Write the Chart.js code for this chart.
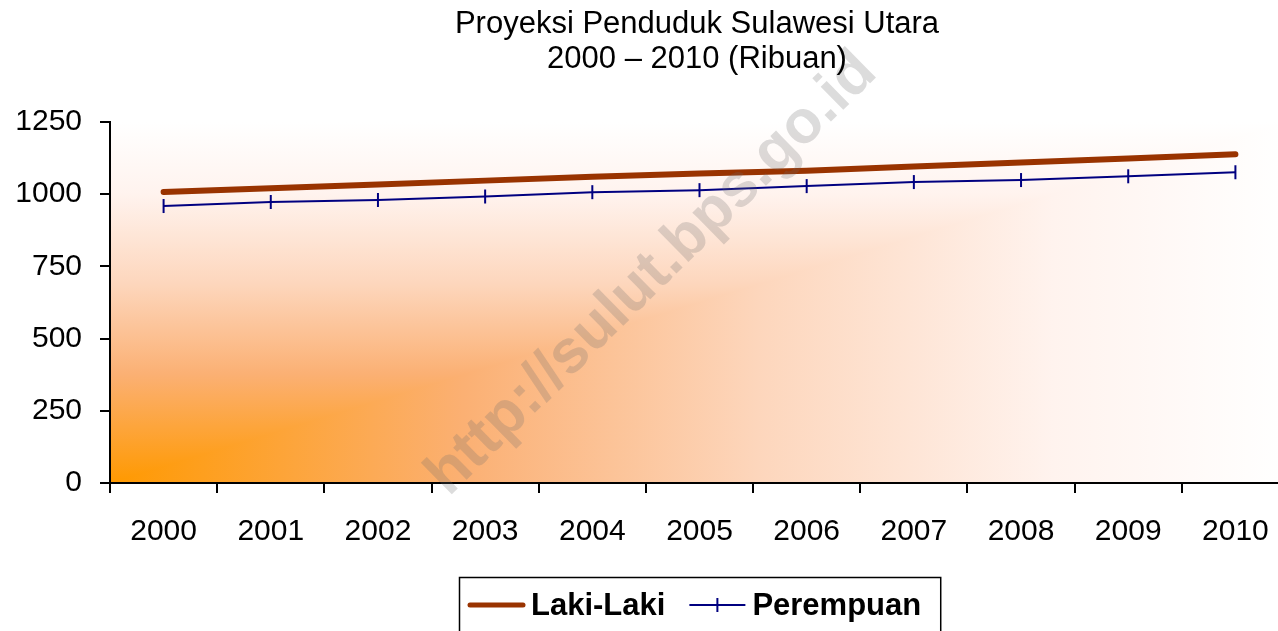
<!DOCTYPE html>
<html>
<head>
<meta charset="utf-8">
<script src="https://cdn.jsdelivr.net/npm/chart.js@4/dist/chart.umd.min.js"></script>
<style>
  html, body { margin: 0; padding: 0; background: #fff; overflow: hidden; }
  #wrap { position: absolute; left: 0; top: 0; width: 1278px; height: 631px; overflow: hidden; }
</style>
</head>
<body>
<div id="wrap"><canvas id="chart" width="1400" height="631"></canvas></div>
<script>
const years = ['2000', '2001', '2002', '2003', '2004', '2005', '2006', '2007', '2008', '2009', '2010'];
const lakiLaki = [1008, 1021, 1034, 1047, 1060, 1072, 1081, 1096, 1110, 1124, 1138];
const perempuan = [959, 973, 980, 992, 1007, 1014, 1028, 1042, 1049, 1062, 1076];
const yTicks = [0, 250, 500, 750, 1000, 1250];
const titleLines = ['Proyeksi Penduduk Sulawesi Utara', '2000 \u2013 2010 (Ribuan)'];
const watermark = 'http://sulut.bps.go.id';

const FONT = "'Liberation Sans', Arial, sans-serif";
Chart.defaults.font.family = FONT;
Chart.defaults.color = '#000';

// corner gradient (orange in bottom-left, fading out to the top and right)
const cornerFill = {
  id: 'cornerFill',
  beforeDraw(chart) {
    const { ctx, chartArea: a } = chart;
    const stops = [[0, '#FF9900'], [0.3, '#FBB073'], [0.55, '#FDD6BC'], [0.8, '#FFF3EE'], [1, '#FFFFFF']];
    const vg = ctx.createLinearGradient(0, a.bottom, 0, a.top);
    const hg = ctx.createLinearGradient(a.left, 0, a.right, 0);
    stops.forEach(s => { vg.addColorStop(s[0], s[1]); hg.addColorStop(s[0], s[1]); });
    ctx.save();
    ctx.fillStyle = hg;
    ctx.fillRect(a.left, a.top, a.right - a.left, a.bottom - a.top);
    ctx.beginPath();
    ctx.moveTo(a.left, a.bottom);
    ctx.lineTo(a.left, a.top);
    ctx.lineTo(a.right, a.top);
    ctx.closePath();
    ctx.fillStyle = vg;
    ctx.fill();
    ctx.restore();
  }
};

// two-line title, centred on the full (uncropped) picture width
const heading = {
  id: 'heading',
  afterDraw(chart) {
    const ctx = chart.ctx;
    ctx.save();
    ctx.font = '31px ' + FONT;
    ctx.fillStyle = '#000';
    ctx.textAlign = 'center';
    ctx.textBaseline = 'alphabetic';
    ctx.fillText(titleLines[0], 697, 33);
    ctx.fillText(titleLines[1], 697, 68);
    ctx.restore();
  }
};

const stamp = {
  id: 'stamp',
  afterDatasetsDraw(chart) {
    const ctx = chart.ctx;
    ctx.save();
    ctx.translate(652, 274);
    ctx.rotate(-44.5 * Math.PI / 180);
    ctx.font = 'bold 61px ' + FONT;
    ctx.fillStyle = 'rgba(110,110,110,0.24)';
    ctx.textAlign = 'center';
    ctx.textBaseline = 'middle';
    ctx.fillText(watermark, 0, 0);
    ctx.restore();
  }
};

// boxed legend under the axis, drawn by hand so the marker of Perempuan shows
const boxLegend = {
  id: 'boxLegend',
  afterDraw(chart) {
    const ctx = chart.ctx;
    const ds = chart.data.datasets;
    ctx.save();
    ctx.font = 'bold 31px ' + FONT;
    const w1 = ctx.measureText(ds[0].label).width;
    const w2 = ctx.measureText(ds[1].label).width;
    const total = 9 + 57 + 6 + w1 + 24 + 56 + 7 + w2 + 19;
    const left = Math.round(700 - total / 2);
    const cy = 605;
    ctx.strokeStyle = '#000';
    ctx.lineWidth = 1.5;
    ctx.strokeRect(left + 0.5, 577.5, total, 70);

    let x = left + 9;
    ctx.strokeStyle = ds[0].borderColor;
    ctx.lineWidth = 5;
    ctx.lineCap = 'round';
    ctx.beginPath(); ctx.moveTo(x + 2, cy); ctx.lineTo(x + 55, cy); ctx.stroke();
    x += 57 + 6;
    ctx.fillStyle = '#000';
    ctx.textBaseline = 'middle';
    ctx.fillText(ds[0].label, x, cy + 1);
    x += w1 + 24;
    ctx.strokeStyle = ds[1].borderColor;
    ctx.lineWidth = 2;
    ctx.lineCap = 'butt';
    ctx.beginPath(); ctx.moveTo(x, cy); ctx.lineTo(x + 56, cy); ctx.stroke();
    ctx.beginPath(); ctx.moveTo(x + 28, cy - 7); ctx.lineTo(x + 28, cy + 7); ctx.stroke();
    x += 56 + 7;
    ctx.fillText(ds[1].label, x, cy + 1);
    ctx.restore();
  }
};

new Chart(document.getElementById('chart'), {
  type: 'line',
  data: {
    labels: years,
    datasets: [
      {
        label: 'Laki-Laki',
        data: lakiLaki,
        borderColor: '#993300',
        borderWidth: 6,
        borderCapStyle: 'round',
        pointRadius: 0,
        pointHoverRadius: 0,
        tension: 0
      },
      {
        label: 'Perempuan',
        data: perempuan,
        borderColor: '#000080',
        borderWidth: 2,
        pointStyle: 'line',
        rotation: 90,
        pointRadius: 7,
        pointHoverRadius: 7,
        pointBorderWidth: 2,
        pointBorderColor: '#000080',
        tension: 0
      }
    ]
  },
  options: {
    responsive: false,
    animation: false,
    devicePixelRatio: 1,
    layout: { padding: { left: 0, right: 111, top: 122, bottom: 0 } },
    plugins: {
      legend: { display: false },
      tooltip: { enabled: false },
      title: { display: false }
    },
    scales: {
      x: {
        offset: true,
        afterFit(scale) { scale.height = 148; },
        grid: { offset: true, drawOnChartArea: false, drawTicks: true, tickLength: 10, color: '#000', lineWidth: 2 },
        border: { color: '#000', width: 2 },
        ticks: { padding: 21, font: { size: 30 }, color: '#000', maxRotation: 0 }
      },
      y: {
        min: 0,
        max: 1250,
        afterFit(scale) { scale.width = 110; },
        afterBuildTicks(scale) { scale.ticks = yTicks.map(v => ({ value: v })); },
        grid: { drawOnChartArea: false, drawTicks: true, tickLength: 10, color: '#000', lineWidth: 2 },
        border: { color: '#000', width: 2 },
        ticks: { padding: 18, font: { size: 30 }, color: '#000', callback: v => String(v) }
      }
    }
  },
  plugins: [cornerFill, stamp, heading, boxLegend]
});
</script>
</body>
</html>
